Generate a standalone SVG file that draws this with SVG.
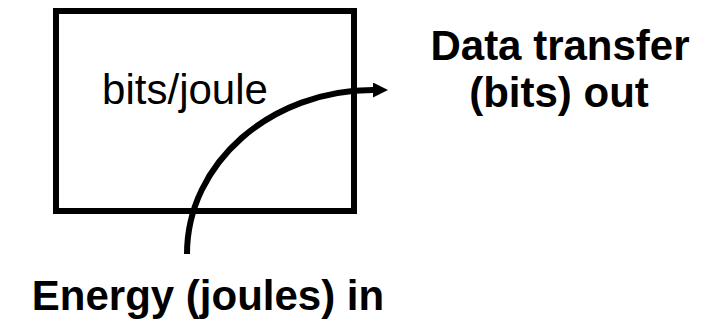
<svg xmlns="http://www.w3.org/2000/svg" width="707" height="320" viewBox="0 0 707 320">
<style>
.t{font-family:"Liberation Sans",Arial,sans-serif;fill:#000}
.b{font-weight:bold;font-size:42px}
</style>
<defs>
<marker id="ah" viewBox="0 0 15 15" refX="0" refY="7.5" markerWidth="15" markerHeight="15" markerUnits="userSpaceOnUse" orient="auto">
<path d="M0,0 L15,7.5 L0,15 Z" fill="#000"/>
</marker>
</defs>
<rect width="707" height="320" fill="#fff"/>
<g id="box">
<rect x="56" y="11" width="298" height="200" fill="none" stroke="#000" stroke-width="6"/>
<text class="t" x="185" y="104" font-size="42" text-anchor="middle">bits/joule</text>
</g>
<g id="output">
<text class="t b" x="560" y="60" text-anchor="middle">Data transfer</text>
<text class="t b" x="559" y="107" text-anchor="middle">(bits) out</text>
</g>
<g id="input">
<text class="t b" x="208" y="310" text-anchor="middle">Energy (joules) in</text>
</g>
<g id="connectors">
<path d="M187,254 C187,163 271,90 373,90" fill="none" stroke="#000" stroke-width="6" marker-end="url(#ah)"/>
</g>
</svg>
